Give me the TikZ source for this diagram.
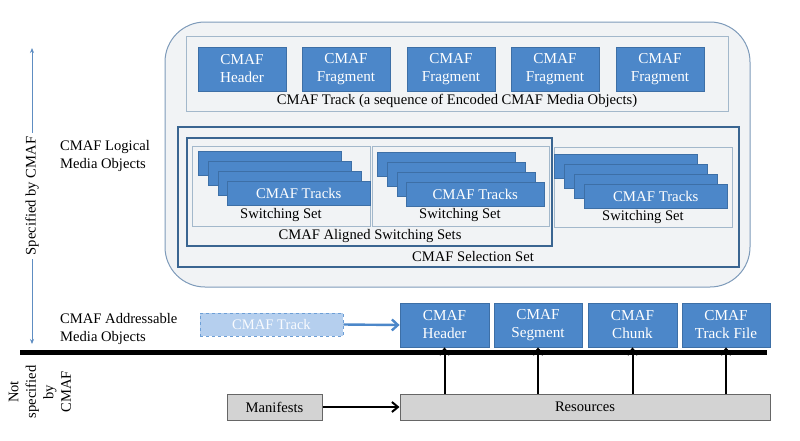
\documentclass[tikz,border=0pt]{standalone}
\usepackage{fontspec}
\setmainfont{Liberation Serif}
\usetikzlibrary{arrows.meta}
\definecolor{bluebox}{HTML}{4C87C9}
\definecolor{blueedge}{HTML}{3D6FA6}
\definecolor{outerfill}{HTML}{F1F3F5}
\definecolor{outeredge}{HTML}{7E9BBA}
\definecolor{lightedge}{HTML}{A3B8CB}
\definecolor{darkedge}{HTML}{3A6591}
\definecolor{dashfill}{HTML}{B5CFEE}
\definecolor{dashedge}{HTML}{6D9FD6}
\definecolor{axisblue}{HTML}{5E8DC2}
\definecolor{grayfill}{HTML}{D3D3D3}
\definecolor{grayedge}{HTML}{666666}
\tikzset{
  txt/.style={font=\fontsize{14.6}{17.5}\selectfont, inner sep=0pt, align=center},
  bbox/.style={txt, draw=blueedge, line width=0.8pt, fill=bluebox, text=white, minimum width=88pt, minimum height=44pt, font=\fontsize{15.2}{18}\selectfont},
  bar/.style={draw=blueedge, line width=0.6pt, fill=bluebox, text=white, inner sep=0pt, minimum height=24pt, font=\fontsize{14.8}{17.5}\selectfont},
  setbox/.style={draw=lightedge, line width=0.8pt, fill=outerfill, inner sep=0pt},
  graybox/.style={txt, draw=grayedge, line width=1pt, fill=grayfill, minimum height=26pt},
  barrow/.style={line width=2pt, -{Straight Barb[length=6pt,width=10pt]}},
  aarrow/.style={axisblue, line width=0.8pt, -{Stealth[length=5pt,width=4pt]}},
}
\begin{document}
\begin{tikzpicture}[x=1pt,y=-1pt]
\useasboundingbox (0,0) rectangle (800,440);
% outer rounded region
\node[draw=outeredge, line width=1pt, fill=outerfill, rounded corners=40pt, minimum width=585pt, minimum height=265pt, inner sep=0pt] (outer) at (457.5,154.5) {};
% CMAF track box
\node[setbox, minimum width=542pt, minimum height=75pt] (trackbox) at (457,73.5) {};
\node[bbox] (th) at (242,69) {CMAF\\Header};
\node[bbox] (tf1) at (346,69) {CMAF\\Fragment};
\node[bbox] (tf2) at (451,69) {CMAF\\Fragment};
\node[bbox] (tf3) at (555,69) {CMAF\\Fragment};
\node[bbox] (tf4) at (660,69) {CMAF\\Fragment};
\node[txt] (trackcap) at (457,101) {CMAF Track (a sequence of Encoded CMAF Media Objects)};
% selection set
\node[draw=darkedge, line width=2.4pt, fill=outerfill, minimum width=561pt, minimum height=140pt, inner sep=0pt] (sel) at (458.5,197) {};
\node[draw=darkedge, line width=2pt, fill=outerfill, minimum width=365pt, minimum height=108pt, inner sep=0pt] (align) at (369.5,192) {};
% switching sets
\node[setbox, minimum width=178pt, minimum height=80pt] (ss1) at (281,186) {};
\node[setbox, minimum width=177pt, minimum height=80pt] (ss2) at (460.5,186) {};
\node[setbox, minimum width=178pt, minimum height=80pt] (ss3) at (643,187) {};
% bars set 1
\node[bar, minimum width=143pt, anchor=north west] (a1) at (198,151) {};
\node[bar, minimum width=143pt, anchor=north west] (a2) at (208,161) {};
\node[bar, minimum width=143pt, anchor=north west] (a3) at (218,171) {};
\node[bar, minimum width=143pt, anchor=north west] (a4) at (227,181) {CMAF Tracks};
% bars set 2
\node[bar, minimum width=138pt, anchor=north west] (b1) at (377,152) {};
\node[bar, minimum width=138pt, anchor=north west] (b2) at (387,162) {};
\node[bar, minimum width=138pt, anchor=north west] (b3) at (397,172) {};
\node[bar, minimum width=138pt, anchor=north west] (b4) at (406,182) {CMAF Tracks};
% bars set 3
\node[bar, minimum width=143pt, anchor=north west] (c1) at (554,154) {};
\node[bar, minimum width=143pt, anchor=north west] (c2) at (564,164) {};
\node[bar, minimum width=143pt, anchor=north west] (c3) at (574,174) {};
\node[bar, minimum width=143pt, anchor=north west] (c4) at (584,184) {CMAF Tracks};
\node[txt] (ss1cap) at (281,215) {Switching Set};
\node[txt] (ss2cap) at (460,215) {Switching Set};
\node[txt] (ss3cap) at (643,217) {Switching Set};
\node[txt] (aligncap) at (370,236) {CMAF Aligned Switching Sets};
\node[txt] (selcap) at (473,256) {CMAF Selection Set};
% left labels
\node[txt, rotate=90, inner xsep=4pt] (spec) at (32,196) {Specified by CMAF};
\coordinate (spectop) at (32,48);
\coordinate (specbot) at (32,344);
\draw[aarrow] (spec.east) -- (spectop);
\draw[aarrow] (spec.west) -- (specbot);
\node[txt, align=left, anchor=west] (logical) at (60,156) {CMAF Logical\\Media Objects};
\node[txt, align=left, anchor=west] (addr) at (60,329) {CMAF Addressable\\Media Objects};
\node[txt, rotate=90] (notspec) at (40,392) {Not\\specified\\by\\CMAF};
% thick line
\coordinate (lineL) at (20,352);
\coordinate (lineR) at (767,352);
\draw[line width=5pt] (lineL) -- (lineR);
% addressable objects
\node[txt, draw=dashedge, dashed, line width=0.8pt, fill=dashfill, text=white!92!dashfill, minimum width=143pt, minimum height=23pt] (dtrack) at (271.5,324.5) {CMAF Track};
\node[bbox, minimum width=89pt] (hdr) at (444.5,325) {CMAF\\Header};
\node[bbox, minimum width=88pt] (seg) at (538,325) {CMAF\\Segment};
\node[bbox, minimum width=89pt] (chk) at (632.5,325) {CMAF\\Chunk};
\node[bbox, minimum width=88pt] (tfile) at (726,325) {CMAF\\Track File};
\draw[bluebox, line width=2.4pt, -{Straight Barb[length=6pt,width=11pt]}] (dtrack.east) -- (hdr.west);
% resources
\node[graybox, minimum width=95pt] (man) at (274.5,407) {Manifests};
\node[graybox, minimum width=370pt] (res) at (585,407) {Resources};
\draw[barrow] (man.east) -- (res.west);
\draw[barrow] (res.north -| hdr.south) -- (hdr.south);
\draw[barrow] (res.north -| seg.south) -- (seg.south);
\draw[barrow] (res.north -| chk.south) -- (chk.south);
\draw[barrow] (res.north -| tfile.south) -- (tfile.south);
\end{tikzpicture}
\end{document}
